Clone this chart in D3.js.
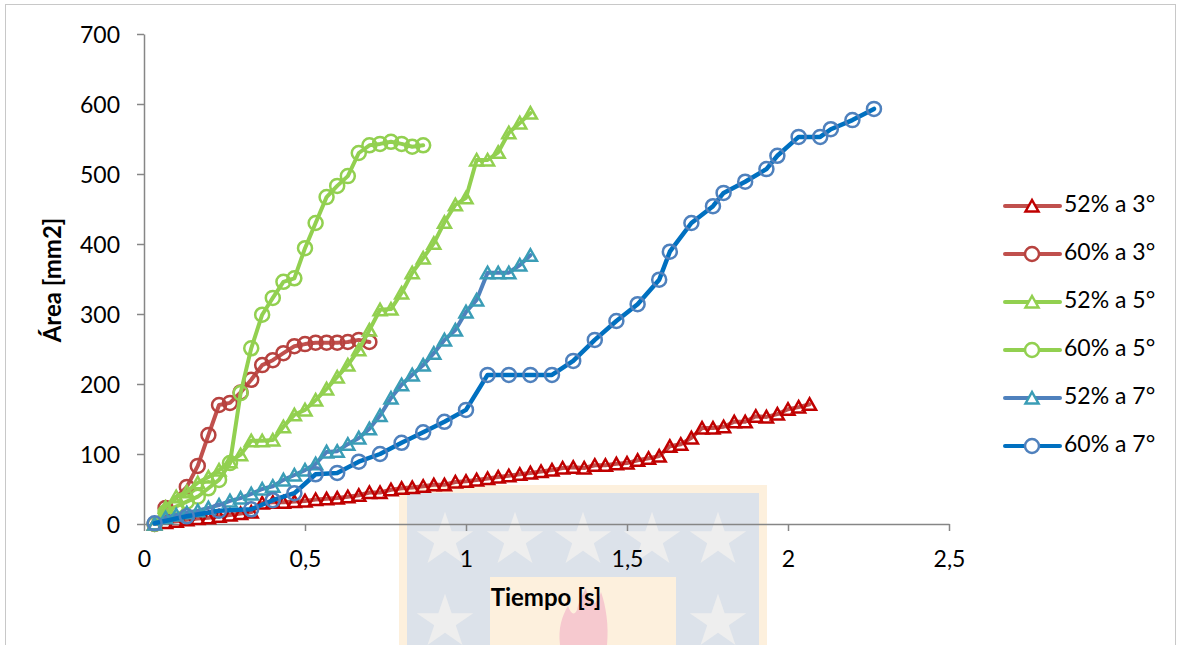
<!DOCTYPE html>
<html>
<head>
<meta charset="utf-8">
<script src="https://cdn.jsdelivr.net/npm/d3@7"></script>
<style>
  html, body { margin: 0; padding: 0; background: #ffffff; }
  svg { display: block; }
  text { font-family: Lato, "Open Sans", sans-serif; fill: #000; }
</style>
</head>
<body>
<svg id="chart" width="1177" height="645"></svg>
<script>
// Área de la mancha [mm2] en función del tiempo [s]
const xTicks = [0, 0.5, 1, 1.5, 2, 2.5];
const xTickLabels = ["0", "0,5", "1", "1,5", "2", "2,5"];
const yTicks = [0, 100, 200, 300, 400, 500, 600, 700];

const seriesNames = ["52% a 3°", "60% a 3°", "52% a 5°", "60% a 5°", "52% a 7°", "60% a 7°"];

const s52a3 = [[0.033,0],[0.067,2],[0.100,4],[0.133,6],[0.167,8],[0.200,9],[0.233,11],[0.267,13],[0.300,15],[0.333,17],[0.367,30],[0.400,31],[0.433,31],[0.467,32],[0.500,33],[0.533,35],[0.567,36],[0.600,37],[0.633,39],[0.667,41],[0.700,45],[0.733,45],[0.767,49],[0.800,51],[0.833,52],[0.867,54],[0.900,56],[0.933,56],[0.967,60],[1.000,61],[1.033,63],[1.067,65],[1.100,67],[1.133,69],[1.167,71],[1.200,73],[1.233,75],[1.267,77],[1.300,80],[1.333,81],[1.367,80],[1.400,84],[1.433,84],[1.467,86],[1.500,87],[1.533,91],[1.567,94],[1.600,97],[1.633,111],[1.667,114],[1.700,123],[1.733,137],[1.767,137],[1.800,139],[1.833,146],[1.867,146],[1.900,154],[1.933,153],[1.967,157],[2.000,164],[2.033,167],[2.067,171]];

const s60a3 = [[0.033,0],[0.067,23],[0.133,53],[0.167,83],[0.200,127],[0.233,170],[0.267,173],[0.300,188],[0.333,206],[0.367,227],[0.400,234],[0.433,244],[0.467,254],[0.500,257],[0.533,259],[0.567,259],[0.600,259],[0.633,260],[0.667,263],[0.700,260]];

const s52a5 = [[0.033,0],[0.067,24],[0.100,39],[0.133,46],[0.167,59],[0.200,67],[0.233,77],[0.267,89],[0.300,99],[0.333,119],[0.367,119],[0.400,120],[0.433,139],[0.467,156],[0.500,163],[0.533,177],[0.567,193],[0.600,210],[0.633,227],[0.667,249],[0.700,277],[0.733,306],[0.767,307],[0.800,330],[0.833,359],[0.867,380],[0.900,401],[0.933,431],[0.967,456],[1.000,466],[1.033,520],[1.067,520],[1.100,531],[1.133,559],[1.167,573],[1.200,587]];

const s60a5 = [[0.033,0],[0.067,17],[0.100,25],[0.133,32],[0.167,39],[0.200,51],[0.233,63],[0.267,87],[0.300,187],[0.333,251],[0.367,299],[0.400,323],[0.433,346],[0.467,351],[0.500,394],[0.533,430],[0.567,467],[0.600,483],[0.633,497],[0.667,530],[0.700,541],[0.733,543],[0.767,546],[0.800,543],[0.833,539],[0.867,541]];

const s52a7 = [[0.033,0],[0.067,9],[0.100,13],[0.133,16],[0.167,19],[0.200,23],[0.233,27],[0.267,33],[0.300,37],[0.333,43],[0.367,50],[0.400,54],[0.433,63],[0.467,70],[0.500,77],[0.533,86],[0.567,103],[0.600,104],[0.633,114],[0.667,123],[0.700,136],[0.733,155],[0.767,180],[0.800,199],[0.833,213],[0.867,227],[0.900,244],[0.933,263],[0.967,277],[1.000,303],[1.033,320],[1.067,359],[1.100,359],[1.133,359],[1.167,370],[1.200,384]];

const s60a7 = [[0.033,1],[0.133,11],[0.233,19],[0.333,21],[0.400,34],[0.467,44],[0.533,71],[0.600,73],[0.667,89],[0.733,100],[0.800,116],[0.867,131],[0.933,146],[1.000,163],[1.067,213],[1.133,213],[1.200,213],[1.267,213],[1.333,233],[1.400,263],[1.467,290],[1.533,314],[1.600,349],[1.633,389],[1.700,430],[1.767,454],[1.800,473],[1.867,489],[1.933,507],[1.967,526],[2.033,553],[2.100,553],[2.133,564],[2.200,577],[2.267,593]];

const seriesData = [s52a3, s60a3, s52a5, s60a5, s52a7, s60a7];
const lineColors = ["#c0504d", "#c0504d", "#92d050", "#92d050", "#4f81bd", "#0070c0"];
const markerColors = ["#c00000", "#b7423f", "#92d050", "#92d050", "#3a9db6", "#4f81bd"];
const markerShapes = ["triangle", "circle", "triangle", "circle", "triangle", "circle"];

const svg = d3.select("#chart");

// frame of the chart area
svg.append("rect")
  .attr("x", 5.5).attr("y", 4.5)
  .attr("width", 1170).attr("height", 700)
  .attr("fill", "none").attr("stroke", "#c8c8c8").attr("stroke-width", 1);

// background emblem
const wm = svg.append("g").attr("class", "emblem");
wm.append("rect").attr("x", 399).attr("y", 485).attr("width", 368).attr("height", 170).attr("fill", "#fdf0dd");
wm.append("rect").attr("x", 407).attr("y", 493).attr("width", 352).attr("height", 170).attr("fill", "#dce2ea");
wm.append("rect").attr("x", 490).attr("y", 577).attr("width", 186).attr("height", 80).attr("fill", "#fdf0dd");
const starPath = d3.symbol().type(d3.symbolStar).size(900)();
[[445, 540], [515, 540], [583, 540], [652, 540], [718, 540], [445, 622], [718, 622]].forEach(([cx, cy]) => {
  wm.append("path").attr("d", starPath).attr("transform", `translate(${cx},${cy}) scale(1.05,1)`).attr("fill", "#eeeeee");
});
wm.append("path")
  .attr("d", "M 560 645 C 558 628 562 616 568 606 C 571 614 574 616 577 610 C 579 600 583 594 586 588 C 588 600 592 606 596 602 C 598 598 600 596 601 592 C 606 606 609 626 607 645 Z")
  .attr("fill", "#f6c9cf");

// scales
const x = d3.scaleLinear().domain([0, 2.5]).range([144, 949]);
const y = d3.scaleLinear().domain([0, 700]).range([524, 34]);

// axes
const xAxis = d3.axisBottom(x).tickValues(xTicks)
  .tickFormat((d, i) => xTickLabels[i]).tickSize(7).tickSizeOuter(0).tickPadding(20);
const yAxis = d3.axisLeft(y).tickValues(yTicks).tickSize(7).tickSizeOuter(0).tickPadding(17);

const gx = svg.append("g").attr("transform", "translate(0,524)").call(xAxis);
const gy = svg.append("g").attr("transform", "translate(144,0)").call(yAxis);
[gx, gy].forEach(g => {
  g.select(".domain").attr("stroke", "#868686").attr("stroke-width", 1.5);
  g.selectAll(".tick line").attr("stroke", "#868686").attr("stroke-width", 1.5);
  g.selectAll(".tick text").style("font-family", "Lato, sans-serif").style("font-size", "23px").attr("fill", "#000");
});
gy.selectAll(".tick text").attr("dy", "0.36em");
gx.selectAll(".tick text").attr("dy", "0.71em");

// axis titles
svg.append("text")
  .attr("x", 546).attr("y", 600)
  .attr("text-anchor", "middle").attr("dominant-baseline", "middle")
  .style("font-size", "24px").style("font-weight", "bold")
  .text("Tiempo [s]");
svg.append("text")
  .attr("transform", "translate(55,280) rotate(-90)")
  .attr("text-anchor", "middle").attr("dominant-baseline", "middle")
  .style("font-size", "24px").style("font-weight", "bold")
  .text("Área [mm2]");

// marker drawing
function triPath(cx, cy) {
  return `M ${cx - 6.5} ${cy + 5.5} L ${cx} ${cy - 6} L ${cx + 6.5} ${cy + 5.5} Z`;
}
function drawMarker(g, shape, cx, cy, color, fill) {
  if (shape === "triangle") {
    g.append("path").attr("d", triPath(cx, cy))
      .attr("fill", fill).attr("stroke", color).attr("stroke-width", 2.5).attr("stroke-linejoin", "miter");
  } else {
    g.append("circle").attr("cx", cx).attr("cy", cy).attr("r", 7)
      .attr("fill", fill).attr("stroke", color).attr("stroke-width", 2.5);
  }
}

const line = d3.line().x(d => x(d[0])).y(d => y(d[1]));

seriesData.forEach((data, i) => {
  const g = svg.append("g").attr("class", "series");
  g.append("path").datum(data)
    .attr("d", line)
    .attr("fill", "none")
    .attr("stroke", lineColors[i])
    .attr("stroke-width", i === 5 ? 4.5 : 4)
    .attr("stroke-linejoin", "round")
    .attr("stroke-linecap", "round");
  data.forEach(d => drawMarker(g, markerShapes[i], x(d[0]), y(d[1]), markerColors[i], "none"));
});

// legend
const legend = svg.append("g").attr("class", "legend");
const legendY = [206, 254, 302, 350, 398, 446];
seriesNames.forEach((name, i) => {
  const ly = legendY[i];
  legend.append("line").attr("x1", 1005).attr("x2", 1060).attr("y1", ly).attr("y2", ly)
    .attr("stroke", lineColors[i]).attr("stroke-width", 4).attr("stroke-linecap", "round");
  drawMarker(legend, markerShapes[i], 1032, ly, markerColors[i], "#ffffff");
  legend.append("text").attr("x", 1064).attr("y", ly)
    .attr("dominant-baseline", "middle")
    .style("font-size", "23px")
    .text(name);
});
</script>
</body>
</html>
